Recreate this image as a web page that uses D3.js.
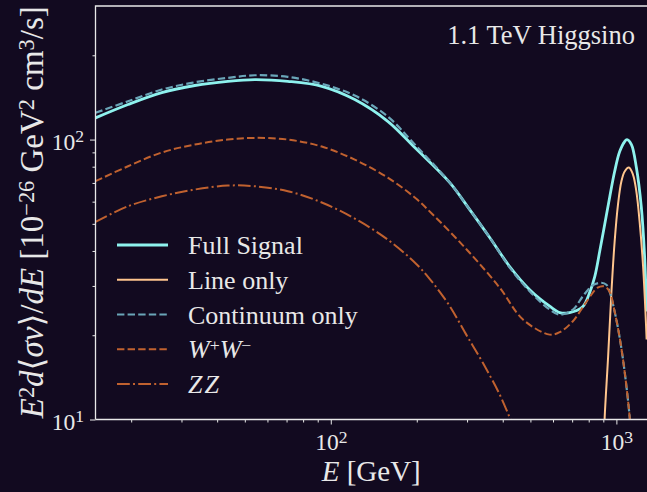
<!DOCTYPE html>
<html>
<head>
<meta charset="utf-8">
<script src="https://cdn.jsdelivr.net/npm/d3@7"></script>
<style>
  html, body { margin: 0; padding: 0; background: #120a20; }
  svg { display: block; }
</style>
</head>
<body>
<div id="chart"></div>
<script>
"use strict";

// [E in GeV, E^2 d<sigma v>/dE in 1e-26 GeV^2 cm^3/s]
const fullSignal = [
  [15, 119.5], [19.5, 133.4], [25.6, 147.1], [33.4, 156], [43.6, 161.5], [54.2, 163.8],
  [70.7, 161.5], [93, 155], [121.3, 139], [158.3, 116.2], [196.8, 93.6], [261, 70.2],
  [306.5, 56.2], [360, 44.7], [423, 35.2], [497, 29.1], [584, 25.4], [633, 24.1],
  [686, 24.1], [762, 25.3], [806, 28.4], [840, 32.4], [874, 39.8], [910, 49.7],
  [947, 62.1], [986, 76.9], [1027, 90.6], [1069, 98.4], [1089, 100], [1129, 96],
  [1175, 79.4], [1223, 57.2], [1256, 37.9], [1276, 24.3]
];

const lineOnly = [
  [903, 8], [910, 10.2], [935, 16.6], [961, 28.6], [986, 43.2], [1013, 58.6],
  [1041, 70.8], [1069, 76.9], [1106, 79.4], [1143, 75.0], [1175, 65.2], [1206, 50.9],
  [1239, 35.8], [1264, 24.3], [1276, 19.3]
];

const continuumOnly = [
  [15, 124.6], [19.5, 137], [25.6, 150.9], [33.4, 160.2], [43.6, 166.1], [54.2, 169.7],
  [70.7, 167.5], [93, 158.1], [121.3, 143.6], [158.3, 120.8], [196.8, 96], [261, 70.2],
  [306.5, 56.2], [360, 44.7], [423, 34.9], [497, 28.7], [584, 24.7], [633, 23.7],
  [705, 24.7], [764, 27.6], [828, 30.2], [886, 30.8], [923, 30.3], [947, 28.6],
  [986, 24.3], [1027, 19.6], [1069, 14.8], [1113, 10.2], [1131, 8]
];

const wwChannel = [
  [15, 71.0], [19.5, 80.3], [25.6, 89.9], [33.4, 96], [43.6, 100], [54.2, 101.4],
  [70.7, 100], [93, 94.4], [121.3, 84.8], [158.3, 73.1], [196.8, 62.1], [227.5, 54.0],
  [299, 40.5], [390, 29.6], [470, 22.8], [584, 20.1], [633, 20.5], [703, 22.4],
  [787, 26.4], [860, 29.6], [910, 29.85], [947, 28.6], [986, 24.3], [1027, 19.6],
  [1069, 14.8], [1113, 10.2], [1131, 8]
];

const zzChannel = [
  [15, 50.8], [19.5, 57.8], [25.6, 62.7], [33.4, 66.3], [43.6, 68.5], [54.2, 68.1],
  [70.7, 65.4], [93, 59.6], [121.3, 52.2], [158.3, 43.9], [200, 35.8], [227.5, 30.8],
  [261, 25.4], [298, 20.1], [340, 16.0], [390, 12.3], [423, 10.17], [444, 9.06], [470, 8.0]
];

const xMajorTicks = [100, 1000];
const xMinorTicks = [20, 30, 40, 50, 60, 70, 80, 90, 200, 300, 400, 500, 600, 700, 800, 900];
const yMajorTicks = [10, 100];
const yMinorTicks = [20, 30, 40, 50, 60, 70, 80, 90, 200];
const xMajorLabels = ["2", "3"];
const yMajorLabels = ["1", "2"];

// label pieces: [text, kind] where kind is rm / it / sup
const legendLabels = [
  [["Full Signal", "rm"]],
  [["Line only", "rm"]],
  [["Continuum only", "rm"]],
  [["W", "it"], ["+", "sup"], ["W", "it"], ["\u2212", "sup"]],
  [["ZZ", "it"]]
];

const seriesStyle = [
  { data: fullSignal, color: "#8ef2ee", width: 2.8, dash: null },
  { data: lineOnly, color: "#ffc58e", width: 2.0, dash: null },
  { data: continuumOnly, color: "#6aa6b8", width: 2.2, dash: "7.4,3.2" },
  { data: wwChannel, color: "#c0612f", width: 2.0, dash: "7.4,3.2" },
  { data: zzChannel, color: "#c0612f", width: 2.0, dash: "12.8,3.2,2,3.2" }
];

const W = 647, H = 492;
const bg = "#120a20";
const fg = "#e8e8e8";
const font = "'Liberation Serif', 'DejaVu Serif', serif";

const plotLeft = 95.5, plotTop = 6, plotBottom = 419.5, plotRight = 647;

const svg = d3.select("#chart").append("svg")
  .attr("width", W)
  .attr("height", H);

svg.append("rect").attr("width", W).attr("height", H).attr("fill", bg);

const x = d3.scaleLog().domain([15, 1280]).range([plotLeft, plotRight]);
const y = d3.scaleLog().domain([10, 300]).range([plotBottom, plotTop]);

svg.append("clipPath").attr("id", "plotclip")
  .append("rect")
  .attr("x", plotLeft).attr("y", plotTop)
  .attr("width", plotRight - plotLeft).attr("height", plotBottom - plotTop);

const line = d3.line()
  .x(d => x(d[0]))
  .y(d => y(d[1]))
  .curve(d3.curveCatmullRom.alpha(0.5));

const curves = svg.append("g").attr("clip-path", "url(#plotclip)");

seriesStyle.forEach(s => {
  curves.append("path")
    .datum(s.data)
    .attr("d", line)
    .attr("fill", "none")
    .attr("stroke", s.color)
    .attr("stroke-width", s.width)
    .attr("stroke-dasharray", s.dash)
    .attr("stroke-linejoin", "round");
});

function addParts(text, parts, supSize = 0.68) {
  let raised = false;
  parts.forEach(([str, kind]) => {
    const sup = kind === "sup";
    const t = text.append("tspan").text(str);
    if (kind === "it") t.style("font-style", "italic");
    if (sup) t.style("font-size", supSize + "em");
    if (sup && !raised) { t.attr("dy", "-0.42em"); raised = true; }
    else if (!sup && raised) { t.attr("dy", (0.42 * supSize) + "em"); raised = false; }
  });
}

// x axis
const xMinorAxis = svg.append("g")
  .attr("transform", `translate(0,${plotBottom})`)
  .call(d3.axisBottom(x).tickValues(xMinorTicks).tickSize(3).tickFormat(""));
const xMajorAxis = svg.append("g")
  .attr("transform", `translate(0,${plotBottom})`)
  .call(d3.axisBottom(x).tickValues(xMajorTicks).tickSize(5).tickFormat(""));

xMajorAxis.selectAll(".tick text").remove();
xMajorAxis.selectAll(".tick").each(function (d, i) {
  const t = d3.select(this).append("text")
    .attr("y", 30.5)
    .attr("text-anchor", "middle")
    .attr("fill", fg)
    .style("font-family", font)
    .style("font-size", "23.5px");
  addParts(t, [["10", "rm"], [xMajorLabels[i], "sup"]], 0.75);
});

// y axis
const yMinorAxis = svg.append("g")
  .attr("transform", `translate(${plotLeft},0)`)
  .call(d3.axisLeft(y).tickValues(yMinorTicks).tickSize(3).tickFormat(""));
const yMajorAxis = svg.append("g")
  .attr("transform", `translate(${plotLeft},0)`)
  .call(d3.axisLeft(y).tickValues(yMajorTicks).tickSize(5.5).tickFormat(""));

yMajorAxis.selectAll(".tick text").remove();
yMajorAxis.selectAll(".tick").each(function (d, i) {
  const t = d3.select(this).append("text")
    .attr("x", -11.5)
    .attr("y", 9.5)
    .attr("text-anchor", "end")
    .attr("fill", fg)
    .style("font-family", font)
    .style("font-size", "23.5px");
  addParts(t, [["10", "rm"], [yMajorLabels[i], "sup"]], 0.75);
});

[xMinorAxis, xMajorAxis, yMinorAxis, yMajorAxis].forEach(g => {
  g.attr("color", fg);
  g.select(".domain").remove();
  g.selectAll(".tick line").attr("stroke-width", 1);
});

// spines
svg.append("path")
  .attr("d", `M${plotLeft},${plotBottom}V${plotTop}H${plotRight}M${plotLeft},${plotBottom}H${plotRight}`)
  .attr("fill", "none")
  .attr("stroke", fg)
  .attr("stroke-width", 1.3);

// axis labels
const xlab = svg.append("text")
  .attr("x", (plotLeft + plotRight) / 2)
  .attr("y", 481)
  .attr("text-anchor", "middle")
  .attr("fill", fg)
  .style("font-family", font)
  .style("font-size", "29px");
addParts(xlab, [["E", "it"], [" [GeV]", "rm"]]);

const ylab = svg.append("text")
  .attr("text-anchor", "middle")
  .attr("fill", fg)
  .style("font-family", font)
  .style("font-size", "32px");
addParts(ylab, [
  ["E", "it"], ["2", "sup"], ["d", "it"], ["\u27e8", "rm"], ["\u03c3v", "it"], ["\u27e9", "rm"],
  ["/", "rm"], ["dE", "it"], [" [10", "rm"], ["\u221226", "sup"], [" GeV", "rm"], ["2", "sup"],
  [" cm", "rm"], ["3", "sup"], ["/s]", "rm"]
]);
const ylen = ylab.node().getComputedTextLength();
ylab.style("font-size", (32 * 412 / ylen) + "px")
  .attr("transform", `translate(43,${(plotTop + plotBottom) / 2 - 0.5}) rotate(-90)`);

// title
svg.append("text")
  .attr("x", 635)
  .attr("y", 44)
  .attr("text-anchor", "end")
  .attr("fill", fg)
  .style("font-family", font)
  .style("font-size", "26.5px")
  .text("1.1 TeV Higgsino");

// legend
const legend = svg.append("g");
seriesStyle.forEach((s, i) => {
  const cy = 245 + i * 34.75;
  legend.append("line")
    .attr("x1", 117).attr("x2", 168)
    .attr("y1", cy).attr("y2", cy)
    .attr("stroke", s.color)
    .attr("stroke-width", s.width)
    .attr("stroke-dasharray", s.dash);
  const t = legend.append("text")
    .attr("x", 188)
    .attr("y", cy + 9)
    .attr("fill", fg)
    .style("font-family", font)
    .style("font-size", "26px");
  if (i === 4) t.style("letter-spacing", "2px");
  addParts(t, legendLabels[i]);
});
</script>
</body>
</html>
